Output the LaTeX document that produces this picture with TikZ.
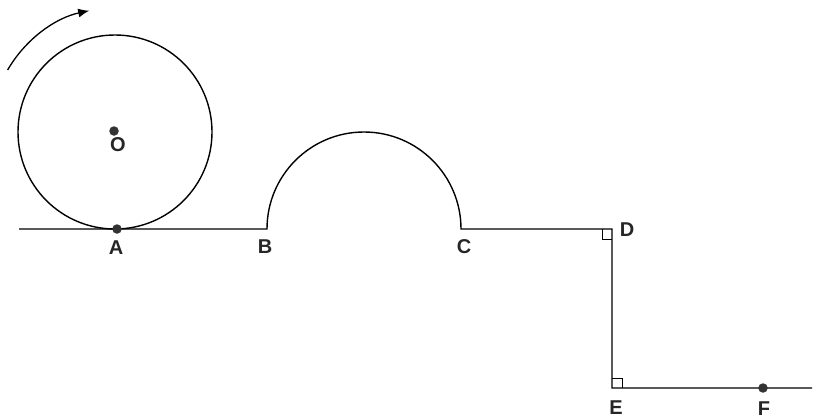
\documentclass[tikz,border=0pt]{standalone}
\usepackage{fontspec}
\setmainfont{Liberation Sans}
\usetikzlibrary{arrows.meta}

\begin{document}
\begin{tikzpicture}[x=1pt,y=-1pt,line width=1.4pt,
  lbl/.style={font=\bfseries\fontsize{20}{20}\selectfont,inner sep=0pt,text=black!85},
  dot/.style={circle,fill=black!80,draw=none,inner sep=0pt,minimum size=9.5pt}]
\useasboundingbox (0,0) rectangle (814,420);
\coordinate (L) at (19,229); \coordinate (A) at (117,229); \coordinate (B) at (267,229); \coordinate (C) at (461,229);
\coordinate (D) at (612,229); \coordinate (E) at (612,388); \coordinate (F) at (763,388); \coordinate (R) at (812,388);
\coordinate (O) at (115,132);
\draw (O) circle (97pt);
\draw (L)--(B) arc (180:0:97pt)--(D)--(E)--(R);
\draw[line width=1pt] (D) ++(-10,0) -- ++(0,10) -- ++(10,0);
\draw[line width=1pt] (E) ++(0,-10) -- ++(10,0) -- ++(0,10);
\draw[line width=1.3pt,-{Latex[length=11pt,width=9pt]}] ([shift={(150:124pt)}]O) arc (150:102:124pt);
\node[dot] (dA) at (A) {}; \node[dot] (dO) at (114,131) {}; \node[dot] (dF) at (F) {};
\node[lbl] (lO) at (118,145) {O};
\node[lbl] (lA) at (116,248) {A};
\node[lbl] (lB) at (265,247) {B};
\node[lbl] (lC) at (464,247) {C};
\node[lbl] (lD) at (627,230) {D};
\node[lbl] (lE) at (616,408) {E};
\node[lbl] (lF) at (764,409) {F};
\end{tikzpicture}
\end{document}
